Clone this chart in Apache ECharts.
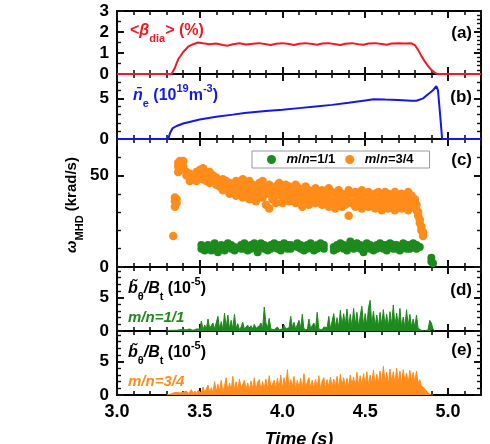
<!DOCTYPE html>
<html>
<head>
<meta charset="utf-8">
<script src="https://cdn.jsdelivr.net/npm/echarts@6/dist/echarts.min.js"></script>
<style>
html, body { margin: 0; padding: 0; background: #fff; }
#main { width: 490px; height: 444px; }
</style>
</head>
<body>
<div id="main"></div>
<script>
// (a) <beta_dia> (%)
const betaTime = [3.00, 3.33, 3.35, 3.37, 3.40, 3.43, 3.46, 3.49, 3.52, 3.56, 3.60, 3.64, 3.67, 3.70, 3.74, 3.78,
    3.82, 3.86, 3.90, 3.93, 3.96, 4.00, 4.04, 4.07, 4.10, 4.14, 4.18, 4.21, 4.24, 4.28, 4.32, 4.35, 4.38, 4.42,
    4.46, 4.49, 4.52, 4.56, 4.60, 4.63, 4.66, 4.70, 4.74, 4.78, 4.80, 4.82, 4.84, 4.86, 4.88, 4.90, 4.92, 4.935, 5.20];
const betaVal = [0, 0, 0.3, 0.7, 1.05, 1.3, 1.42, 1.5, 1.46, 1.42, 1.45, 1.38, 1.35, 1.42, 1.46, 1.40,
    1.44, 1.47, 1.42, 1.38, 1.44, 1.47, 1.43, 1.38, 1.44, 1.47, 1.43, 1.39, 1.45, 1.47, 1.42, 1.38, 1.44, 1.47,
    1.42, 1.39, 1.45, 1.47, 1.43, 1.39, 1.45, 1.47, 1.45, 1.46, 1.38, 1.15, 0.85, 0.6, 0.38, 0.2, 0.07, 0, 0];

// (b) line-averaged density (10^19 m^-3)
const neTime = [3.00, 3.31, 3.32, 3.335, 3.36, 3.40, 3.45, 3.50, 3.60, 3.70, 3.77, 3.90, 4.00, 4.10, 4.20, 4.30,
    4.40, 4.50, 4.55, 4.62, 4.70, 4.78, 4.81, 4.85, 4.88, 4.91, 4.93, 4.94, 4.955, 4.965, 5.20];
const neVal = [0, 0, 0.7, 1.3, 1.6, 1.9, 2.15, 2.4, 2.75, 3.0, 3.2, 3.45, 3.6, 3.8, 4.0, 4.2,
    4.45, 4.75, 4.9, 4.85, 4.8, 4.7, 4.7, 5.0, 5.5, 6.0, 6.5, 6.0, 2.5, 0, 0];

// (c) mode frequency (krad/s)
const mode11 = [
    [3.51, 10], [3.51, 12], [3.53, 11], [3.53, 9], [3.55, 12], [3.55, 10], [3.57, 9], [3.57, 11], [3.59, 13], [3.59, 10],
    [3.61, 10], [3.61, 8], [3.63, 12], [3.63, 10], [3.65, 11], [3.65, 9], [3.67, 13], [3.67, 11], [3.69, 10], [3.69, 12],
    [3.71, 11], [3.71, 9], [3.75, 12], [3.75, 10], [3.77, 10], [3.77, 13], [3.79, 11], [3.79, 9], [3.81, 12], [3.81, 10],
    [3.83, 13], [3.83, 11], [3.85, 10], [3.85, 8], [3.87, 11], [3.87, 13], [3.89, 12], [3.89, 10], [3.91, 9], [3.91, 11],
    [3.93, 12], [3.93, 10], [3.95, 11], [3.95, 13], [3.97, 10], [3.97, 12], [3.99, 12], [3.99, 9], [4.01, 11], [4.01, 13],
    [4.03, 10], [4.03, 12], [4.05, 12], [4.05, 10], [4.09, 11], [4.09, 13], [4.11, 10], [4.11, 12], [4.13, 9], [4.13, 11],
    [4.15, 12], [4.15, 10], [4.17, 13], [4.17, 11], [4.19, 10], [4.19, 9], [4.21, 12], [4.21, 10], [4.23, 11], [4.23, 13],
    [4.25, 10], [4.25, 12], [4.31, 11], [4.31, 9], [4.33, 12], [4.33, 10], [4.35, 13], [4.35, 11], [4.37, 10], [4.37, 12],
    [4.39, 11], [4.39, 9], [4.41, 12], [4.41, 14], [4.43, 10], [4.43, 12], [4.45, 11], [4.45, 13], [4.47, 12], [4.47, 10],
    [4.49, 10], [4.49, 8], [4.51, 11], [4.51, 13], [4.53, 12], [4.53, 10], [4.55, 9], [4.55, 11], [4.57, 12], [4.57, 10],
    [4.59, 11], [4.59, 13], [4.61, 10], [4.61, 12], [4.63, 12], [4.63, 9], [4.65, 11], [4.65, 13], [4.67, 10], [4.67, 12],
    [4.69, 12], [4.69, 10], [4.71, 11], [4.71, 9], [4.73, 13], [4.73, 11], [4.75, 10], [4.75, 12], [4.77, 12], [4.77, 10],
    [4.79, 11], [4.79, 13], [4.81, 10], [4.81, 12], [4.83, 11], [4.90, 5], [4.90, 3], [4.91, 2]
];
const mode34 = [
    [3.34, 17], [3.35, 33], [3.35, 36], [3.35, 38], [3.36, 35], [3.36, 37], [3.37, 52], [3.37, 55], [3.37, 57],
    [3.38, 56], [3.38, 58], [3.38, 53], [3.40, 58], [3.40, 55], [3.42, 52], [3.42, 50], [3.44, 49], [3.44, 51], [3.44, 47],
    [3.46, 48], [3.46, 50], [3.48, 50], [3.48, 52], [3.48, 47], [3.50, 53], [3.50, 49], [3.52, 54], [3.52, 50], [3.52, 48],
    [3.54, 51], [3.54, 47], [3.56, 52], [3.56, 48], [3.56, 46], [3.58, 47], [3.58, 50], [3.60, 49], [3.60, 45], [3.60, 47],
    [3.62, 46], [3.62, 44], [3.64, 48], [3.64, 45], [3.64, 42], [3.66, 44], [3.66, 47], [3.68, 46], [3.68, 42], [3.68, 40],
    [3.70, 44], [3.70, 41], [3.72, 47], [3.72, 43], [3.72, 39], [3.74, 45], [3.74, 40], [3.76, 48], [3.76, 42], [3.76, 38],
    [3.78, 46], [3.78, 41], [3.80, 47], [3.80, 43], [3.80, 37], [3.82, 45], [3.82, 40], [3.84, 44], [3.84, 39], [3.84, 36],
    [3.86, 46], [3.86, 41], [3.88, 47], [3.88, 42], [3.88, 38], [3.90, 43], [3.90, 34], [3.92, 45], [3.92, 40], [3.92, 32],
    [3.94, 42], [3.94, 37], [3.96, 44], [3.96, 39], [3.96, 35], [3.98, 46], [3.98, 41], [4.00, 43], [4.00, 38], [4.00, 35],
    [4.02, 45], [4.02, 40], [4.04, 44], [4.04, 39], [4.04, 36], [4.06, 42], [4.06, 37], [4.08, 45], [4.08, 40], [4.08, 35],
    [4.10, 43], [4.10, 38], [4.12, 41], [4.12, 37], [4.12, 33], [4.14, 44], [4.14, 39], [4.16, 42], [4.16, 36], [4.16, 34],
    [4.18, 40], [4.18, 37], [4.20, 43], [4.20, 38], [4.20, 35], [4.22, 41], [4.22, 36], [4.24, 42], [4.24, 38], [4.24, 34],
    [4.26, 39], [4.26, 35], [4.28, 43], [4.28, 37], [4.28, 33], [4.30, 41], [4.30, 36], [4.32, 40], [4.32, 35], [4.32, 32],
    [4.34, 42], [4.34, 37], [4.36, 40], [4.36, 35], [4.36, 33], [4.38, 39], [4.38, 34], [4.40, 42], [4.40, 36], [4.40, 28],
    [4.42, 40], [4.42, 35], [4.44, 41], [4.44, 36], [4.44, 33], [4.46, 39], [4.46, 34], [4.48, 42], [4.48, 37], [4.48, 32],
    [4.50, 40], [4.50, 35], [4.52, 41], [4.52, 36], [4.52, 33], [4.54, 38], [4.54, 34], [4.56, 40], [4.56, 35], [4.56, 32],
    [4.58, 41], [4.58, 36], [4.60, 39], [4.60, 34], [4.60, 31], [4.62, 41], [4.62, 37], [4.64, 40], [4.64, 35], [4.64, 32],
    [4.66, 38], [4.66, 34], [4.68, 41], [4.68, 36], [4.68, 31], [4.70, 39], [4.70, 34], [4.72, 40], [4.72, 35], [4.72, 32],
    [4.74, 38], [4.74, 33], [4.76, 41], [4.76, 36], [4.76, 31], [4.78, 39], [4.78, 34], [4.80, 37], [4.80, 33],
    [4.81, 34], [4.81, 31], [4.82, 30], [4.82, 28], [4.83, 26], [4.83, 24], [4.84, 22], [4.84, 20], [4.85, 19], [4.85, 17]
];

// (d), (e) magnetic fluctuation amplitude (10^-5), sampled every 0.01 s from 3.30 s
const fluctStart = 3.30;
const fluctStep = 0.01;
const fluct11 = [
    0, 0, 0.1, 0.1, 0.1, 0.2, 0.1, 0.1, 0.2, 0.1,
    0.2, 0.1, 0.2, 0.1, 0.3, 0.2, 0.1, 0.2, 0.3, 0.2,
    0.3, 1.5, 0.2, 0.9, 0.3, 1.8, 0.4, 0.2, 1.2, 0.3,
    0.5, 2.2, 0.3, 1.4, 0.2, 2.7, 0.5, 2.4, 0.3, 1.6,
    0.3, 2.5, 0.4, 1.1, 0.2, 0.6, 1.3, 0.3, 0.5, 0.9,
    0.3, 0.8, 0.3, 1.0, 0.4, 0.2, 0.8, 1.2, 0.3, 3.6,
    1.2, 0.5, 1.9, 0.3, 0.5, 0.2, 0.4, 0.6, 0.2, 0.5,
    0.3, 0.9, 0.3, 0.2, 0.5, 2.2, 0.5, 1.3, 0.3, 0.3,
    1.6, 0.4, 2.5, 0.3, 0.6, 0.2, 1.8, 0.4, 0.3, 1.2,
    0.3, 2.8, 0.3, 0.5, 0.2, 0.6, 0.3, 0.5, 2.2, 0.3,
    0.3, 2.6, 0.6, 2.0, 0.5, 3.1, 0.8, 2.6, 0.9, 3.3,
    0.6, 2.5, 0.5, 3.4, 0.9, 2.8, 0.6, 2.3, 3.7, 0.8,
    2.6, 0.8, 3.5, 4.6, 0.9, 3.0, 0.7, 2.4, 0.6, 2.8,
    0.9, 3.2, 0.8, 2.5, 0.6, 2.9, 0.9, 3.9, 0.7, 2.7,
    0.8, 3.4, 0.6, 2.1, 0.5, 3.2, 0.8, 2.5, 0.6, 1.8,
    0.6, 2.4, 0.4, 0.2, 0.1, 0, 0, 0, 0.2, 1.6,
    1.2, 0.3, 0
];
const fluct34 = [
    0, 0, 0.1, 0.2, 0.3, 0.1, 0.4, 0.1, 0.3, 0.1,
    0.4, 0.1, 0.6, 0.2, 0.5, 0.8, 0.2, 0.6, 0.2, 0.7,
    1.0, 0.3, 1.2, 0.4, 0.9, 1.5, 0.4, 1.1, 0.3, 2.0,
    0.5, 1.6, 0.6, 2.2, 0.4, 1.4, 2.6, 0.5, 1.8, 0.7,
    2.8, 0.8, 2.0, 0.6, 2.4, 1.0, 0.7, 2.2, 0.8, 1.8,
    0.8, 2.1, 0.9, 2.6, 0.7, 1.9, 2.3, 0.8, 2.0, 1.0,
    2.4, 0.9, 2.9, 1.1, 0.8, 2.2, 1.0, 2.5, 1.1, 3.0,
    1.0, 2.6, 1.2, 3.8, 1.0, 2.3, 1.3, 2.8, 0.9, 2.2,
    1.1, 2.5, 0.9, 3.2, 1.2, 1.0, 2.6, 1.1, 2.2, 0.9,
    2.4, 1.1, 2.9, 0.9, 2.1, 2.6, 1.0, 2.3, 1.2, 2.7,
    1.1, 2.4, 1.3, 2.8, 1.0, 3.1, 1.4, 2.6, 1.2, 2.5,
    1.3, 3.0, 1.5, 2.7, 1.2, 3.4, 1.4, 2.9, 1.3, 3.2,
    1.6, 3.5, 1.4, 3.0, 1.7, 3.7, 1.5, 3.1, 1.8, 3.6,
    1.7, 4.3, 1.9, 3.4, 1.6, 3.9, 2.0, 3.5, 1.7, 4.0,
    1.9, 3.6, 1.7, 3.8, 2.0, 3.3, 1.8, 3.7, 1.9, 3.4,
    2.0, 3.6, 1.7, 2.3, 1.4, 1.6, 0.9, 0.8, 0.3, 0.1,
    0, 0
];

const xTicks = [3.0, 3.5, 4.0, 4.5, 5.0];

const FONT = '"Liberation Sans", Arial, Helvetica, sans-serif';
const RED = '#f01a22', BLUE = '#1418e6', GREEN = '#1c8a1c', ORANGE = '#ff8c1a';

// one panel per grid, stacked without gaps
const panels = [
    {top: 11, height: 63, max: 3, interval: 1, minorL: 2, minorR: 5},
    {top: 74, height: 65, max: 8, interval: 5, minorL: 5, minorR: 5},
    {top: 139, height: 128, max: 70, interval: 50, minorL: 5, minorR: 5},
    {top: 267, height: 64, max: 9.6, interval: 5, minorL: 5, minorR: 5},
    {top: 331, height: 64, max: 9.6, interval: 5, minorL: 5, minorR: 5}
];

const grids = [], xAxes = [], yAxes = [];
panels.forEach((p, i) => {
    const last = i === panels.length - 1;
    grids.push({left: 117, right: 9, top: p.top, height: p.height, outerBoundsMode: 'none'});
    ['bottom', 'top'].forEach(pos => {
        xAxes.push({
            type: 'value', gridIndex: i, position: pos, min: 3, max: 5.2, interval: 0.5,
            axisLine: {show: true, onZero: false, lineStyle: {color: '#000', width: 2}},
            axisTick: {show: true, inside: true, length: 7, lineStyle: {color: '#111', width: 2}},
            minorTick: {show: true, splitNumber: 5, length: 4, lineStyle: {color: '#111', width: 1.6}},
            splitLine: {show: false},
            axisLabel: {
                show: last && pos === 'bottom', margin: 8, color: '#000', fontFamily: FONT,
                fontSize: 18, fontWeight: 'bold',
                formatter: v => xTicks.some(t => Math.abs(t - v) < 1e-6) ? v.toFixed(1) : ''
            }
        });
    });
    ['left', 'right'].forEach(pos => {
        yAxes.push({
            type: 'value', gridIndex: i, position: pos, min: 0, max: p.max, interval: p.interval,
            axisLine: {show: true, onZero: false, lineStyle: {color: '#000', width: 2}},
            axisTick: {show: true, inside: true, length: 7, lineStyle: {color: '#111', width: 2}},
            minorTick: {show: true, splitNumber: pos === 'left' ? p.minorL : p.minorR, length: 4,
                lineStyle: {color: '#111', width: 1.4}},
            splitLine: {show: false},
            axisLabel: {
                show: pos === 'left', margin: 8, color: '#000', fontFamily: FONT, fontSize: 17, fontWeight: 'bold',
                formatter: v => (Math.abs(v / p.interval - Math.round(v / p.interval)) < 1e-6) ? String(v) : ''
            }
        });
    });
});

const pairs = (ts, vs) => ts.map((t, k) => [t, vs[k]]);
const sampled = vs => vs.map((v, k) => [+(fluctStart + k * fluctStep).toFixed(2), v]);

const series = [
    {type: 'line', xAxisIndex: 0, yAxisIndex: 0, data: pairs(betaTime, betaVal), showSymbol: false,
        lineStyle: {color: RED, width: 2}, z: 3},
    {type: 'line', xAxisIndex: 2, yAxisIndex: 2, data: pairs(neTime, neVal), showSymbol: false,
        lineStyle: {color: BLUE, width: 2}, z: 3},
    {name: 'm/n=1/1', type: 'scatter', xAxisIndex: 4, yAxisIndex: 4, data: mode11, symbolSize: 8,
        itemStyle: {color: GREEN, opacity: 1}},
    {name: 'm/n=3/4', type: 'scatter', xAxisIndex: 4, yAxisIndex: 4, data: mode34, symbolSize: 8.5,
        itemStyle: {color: ORANGE, opacity: 1}},
    {type: 'line', xAxisIndex: 6, yAxisIndex: 6, data: sampled(fluct11), showSymbol: false,
        lineStyle: {color: GREEN, width: 1}, areaStyle: {color: GREEN, opacity: 1}, z: 3},
    {type: 'line', xAxisIndex: 8, yAxisIndex: 8, data: sampled(fluct34), showSymbol: false,
        lineStyle: {color: ORANGE, width: 1}, areaStyle: {color: ORANGE, opacity: 1}, z: 3}
];

// rich text helpers for panel labels
function richSet(color, size) {
    const base = {fill: color, fontFamily: FONT, fontWeight: 'bold', fontSize: size, lineHeight: 26};
    return {
        t: Object.assign({}, base),
        i: Object.assign({}, base, {fontStyle: 'italic'}),
        s: Object.assign({}, base, {fontSize: 11, lineHeight: 11, verticalAlign: 'bottom'}),
        p: Object.assign({}, base, {fontSize: 11, lineHeight: 11, verticalAlign: 'top'})
    };
}
function label(x, y, text, color, size, align, rotation) {
    return {
        type: 'text', x: x, y: y, rotation: rotation || 0, z: 100,
        style: {
            text: text, rich: richSet(color, size), fill: color,
            font: 'bold ' + size + 'px ' + FONT,
            align: align || 'left', textAlign: align || 'left',
            verticalAlign: 'middle', textVerticalAlign: 'middle'
        }
    };
}

const graphics = [
    label(130, 31, '{t|<}{i|\u03b2}{s|dia}{t|> (%)}', RED, 16),
    label(133, 96, '{i|n\u0304}{s|e}{t| (10}{p|19}{t|m}{p|-3}{t|)}', BLUE, 16),
    label(128, 289, '{i|b\u0303}{s|\u03b8}{i|/B}{s|t}{t| (10}{p|-5}{t|)}', '#000', 16),
    label(128, 318, '{i|m/n=1/1}', GREEN, 15),
    label(128, 353, '{i|b\u0303}{s|\u03b8}{i|/B}{s|t}{t| (10}{p|-5}{t|)}', '#000', 16),
    label(128, 382, '{i|m/n=3/4}', ORANGE, 15),
    label(472, 33, '{t|(a)}', '#000', 17, 'right'),
    label(472, 97, '{t|(b)}', '#000', 17, 'right'),
    label(472, 160, '{t|(c)}', '#000', 17, 'right'),
    label(472, 290, '{t|(d)}', '#000', 17, 'right'),
    label(472, 350, '{t|(e)}', '#000', 17, 'right'),
    label(72, 205, '{i|\u03c9}{s|MHD}{t| (krad/s)}', '#000', 15, 'center', Math.PI / 2),
    {
        type: 'text', x: 299, y: 431, z: 100,
        style: {text: 'Time (s)', fill: '#000', font: 'italic bold 18px ' + FONT,
            align: 'center', textAlign: 'center', verticalAlign: 'top', textVerticalAlign: 'top'}
    }
];

const myChart = echarts.init(document.getElementById('main'), null, {renderer: 'canvas'});
myChart.setOption({
    backgroundColor: '#fff',
    animation: false,
    grid: grids,
    xAxis: xAxes,
    yAxis: yAxes,
    legend: {
        data: ['m/n=1/1', 'm/n=3/4'],
        left: 252, top: 151, orient: 'horizontal',
        icon: 'circle', itemWidth: 20, itemHeight: 9, itemGap: 10,
        padding: [2, 16, 2, 15],
        backgroundColor: '#fff', borderColor: '#999', borderWidth: 1, borderRadius: 0,
        textStyle: {
            color: '#000', fontFamily: FONT, fontSize: 13, fontWeight: 'bold',
            rich: {i: {fontStyle: 'italic', fontWeight: 'bold', fontSize: 13, fontFamily: FONT, color: '#000'}}
        },
        formatter: name => '{i|m}/{i|n}' + name.slice(3)
    },
    series: series,
    graphic: graphics
});
</script>
</body>
</html>
